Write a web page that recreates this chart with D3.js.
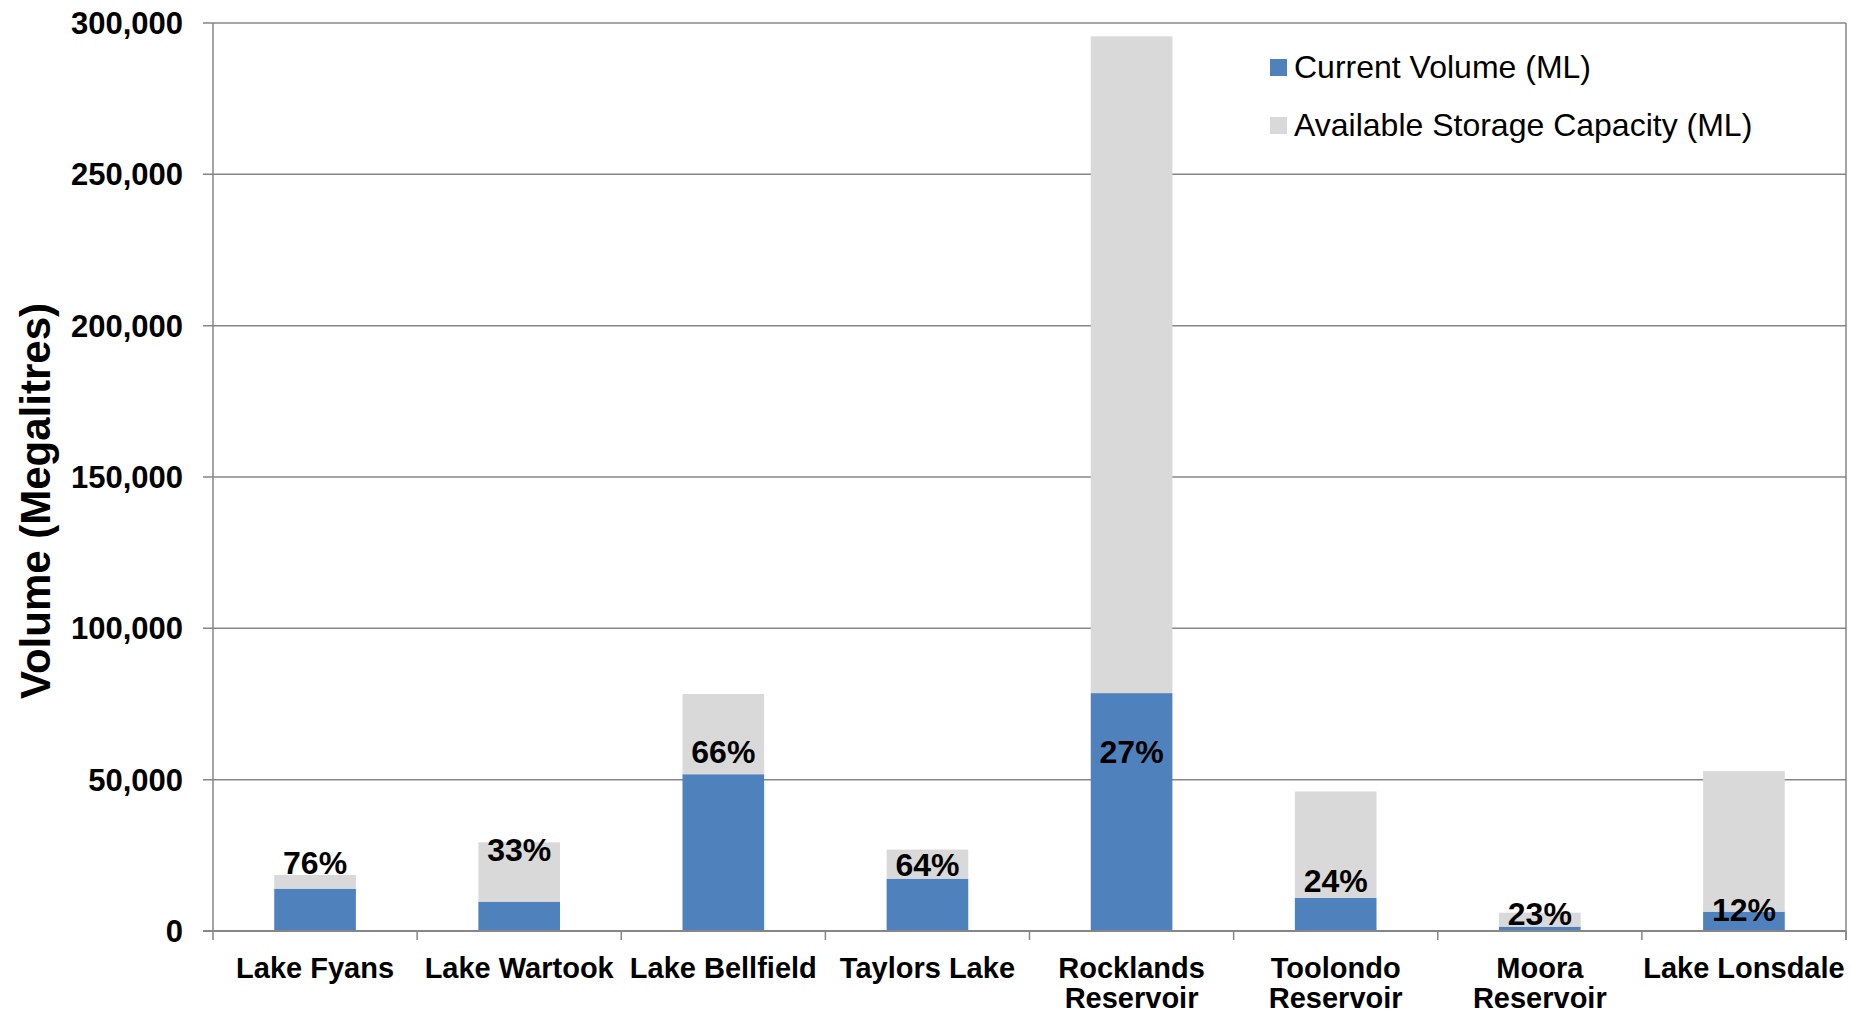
<!DOCTYPE html>
<html>
<head>
<meta charset="utf-8">
<script src="https://cdn.jsdelivr.net/npm/d3@7"></script>
<style>
  html, body { margin: 0; padding: 0; background: #fff; }
  svg { display: block; font-family: "Liberation Sans", Arial, sans-serif; }
</style>
</head>
<body>
<svg id="chart" width="1852" height="1014"></svg>
<script>
// ---- Data ----
const categories = ["Lake Fyans", "Lake Wartook", "Lake Bellfield", "Taylors Lake",
  "Rocklands Reservoir", "Toolondo Reservoir", "Moora Reservoir", "Lake Lonsdale"];
const currentVolume = [14000, 9700, 51800, 17300, 78600, 10900, 1450, 6400];
const availableCapacity = [4500, 19600, 26500, 9600, 217000, 35200, 4600, 46400];
const percentLabels = ["76%", "33%", "66%", "64%", "27%", "24%", "23%", "12%"];
const labelValues = [22600, 26800, 59100, 22000, 59100, 16500, 5600, 7100];
const yTicks = [0, 50000, 100000, 150000, 200000, 250000, 300000];
const seriesNames = ["Current Volume (ML)", "Available Storage Capacity (ML)"];
const seriesColors = ["#4F81BD", "#D9D9D9"];

// ---- Layout ----
const svg = d3.select("#chart");
const margin = { left: 213, right: 6, top: 23, bottom: 83 };
const W = 1852, H = 1014;
const x0 = margin.left, x1 = W - margin.right;
const y0 = H - margin.bottom, y1 = margin.top;

const x = d3.scaleBand().domain(categories).range([x0, x1]).paddingInner(0.6).paddingOuter(0.3);
const y = d3.scaleLinear().domain([0, 300000]).range([y0, y1]);
const step = x.step();
const gridColor = "#868686";

// gridlines
svg.append("g").selectAll("line").data(yTicks).join("line")
  .attr("x1", x0 - 10).attr("x2", x1)
  .attr("y1", d => y(d)).attr("y2", d => y(d))
  .attr("stroke", gridColor).attr("stroke-width", 1.5);

// stacked data
const rows = categories.map((c, i) => ({ cat: c, cur: currentVolume[i], avail: availableCapacity[i] }));
const stack = d3.stack().keys(["cur", "avail"])(rows);

svg.append("g").selectAll("g").data(stack).join("g")
  .attr("fill", (d, i) => seriesColors[i])
  .selectAll("rect").data(d => d).join("rect")
  .attr("x", d => x(d.data.cat))
  .attr("width", x.bandwidth())
  .attr("y", d => y(d[1]))
  .attr("height", d => y(d[0]) - y(d[1]));

// axes lines
svg.append("line").attr("x1", x0).attr("x2", x0).attr("y1", y1).attr("y2", y0)
  .attr("stroke", gridColor).attr("stroke-width", 1.5);
svg.append("line").attr("x1", x1).attr("x2", x1).attr("y1", y1).attr("y2", y0 + 9)
  .attr("stroke", gridColor).attr("stroke-width", 1.5);
svg.append("line").attr("x1", x0 - 10).attr("x2", x1).attr("y1", y0).attr("y2", y0)
  .attr("stroke", gridColor).attr("stroke-width", 2);

// x ticks at category boundaries
const boundaries = d3.range(categories.length + 1).map(i => x0 + i * step);
svg.append("g").selectAll("line").data(boundaries).join("line")
  .attr("x1", d => d).attr("x2", d => d).attr("y1", y0).attr("y2", y0 + 9)
  .attr("stroke", gridColor).attr("stroke-width", 1.5);

// y tick labels
const fmt = d3.format(",");
svg.append("g").selectAll("text").data(yTicks).join("text")
  .attr("x", x0 - 30).attr("y", d => y(d)).attr("dy", "0.35em")
  .attr("text-anchor", "end").attr("font-weight", "bold").attr("font-size", 31)
  .attr("fill", "#000").text(d => fmt(d));

// y axis title
svg.append("text")
  .attr("transform", `translate(${50},${501}) rotate(-90)`)
  .attr("text-anchor", "middle").attr("font-weight", "bold").attr("font-size", 42)
  .text("Volume (Megalitres)");

// x labels with wrapping
const xl = svg.append("g");
categories.forEach((c, i) => {
  const cx = x0 + i * step + step / 2;
  const t = xl.append("text").attr("text-anchor", "middle").attr("font-weight", "bold")
    .attr("font-size", 29).attr("x", cx).attr("y", 978);
  t.text(c);
  if (t.node().getComputedTextLength() > step + 4) {
    t.text(null);
    const words = c.split(" ");
    const last = words.pop();
    t.append("tspan").attr("x", cx).attr("y", 978).text(words.join(" "));
    t.append("tspan").attr("x", cx).attr("y", 1008).text(last);
  }
});

// percentage labels
svg.append("g").selectAll("text").data(categories).join("text")
  .attr("x", d => x(d) + x.bandwidth() / 2)
  .attr("y", (d, i) => y(labelValues[i])).attr("dy", "0.35em")
  .attr("text-anchor", "middle").attr("font-weight", "bold").attr("font-size", 32)
  .text((d, i) => percentLabels[i]);

// legend
const lg = svg.append("g").attr("transform", "translate(1270,0)");
seriesNames.forEach((n, i) => {
  const cy = 67 + i * 58;
  lg.append("rect").attr("x", 0).attr("y", cy - 8).attr("width", 17).attr("height", 17)
    .attr("fill", seriesColors[i]);
  lg.append("text").attr("x", 24).attr("y", cy).attr("dy", "0.35em")
    .attr("font-size", 32).text(n);
});
</script>
</body>
</html>
